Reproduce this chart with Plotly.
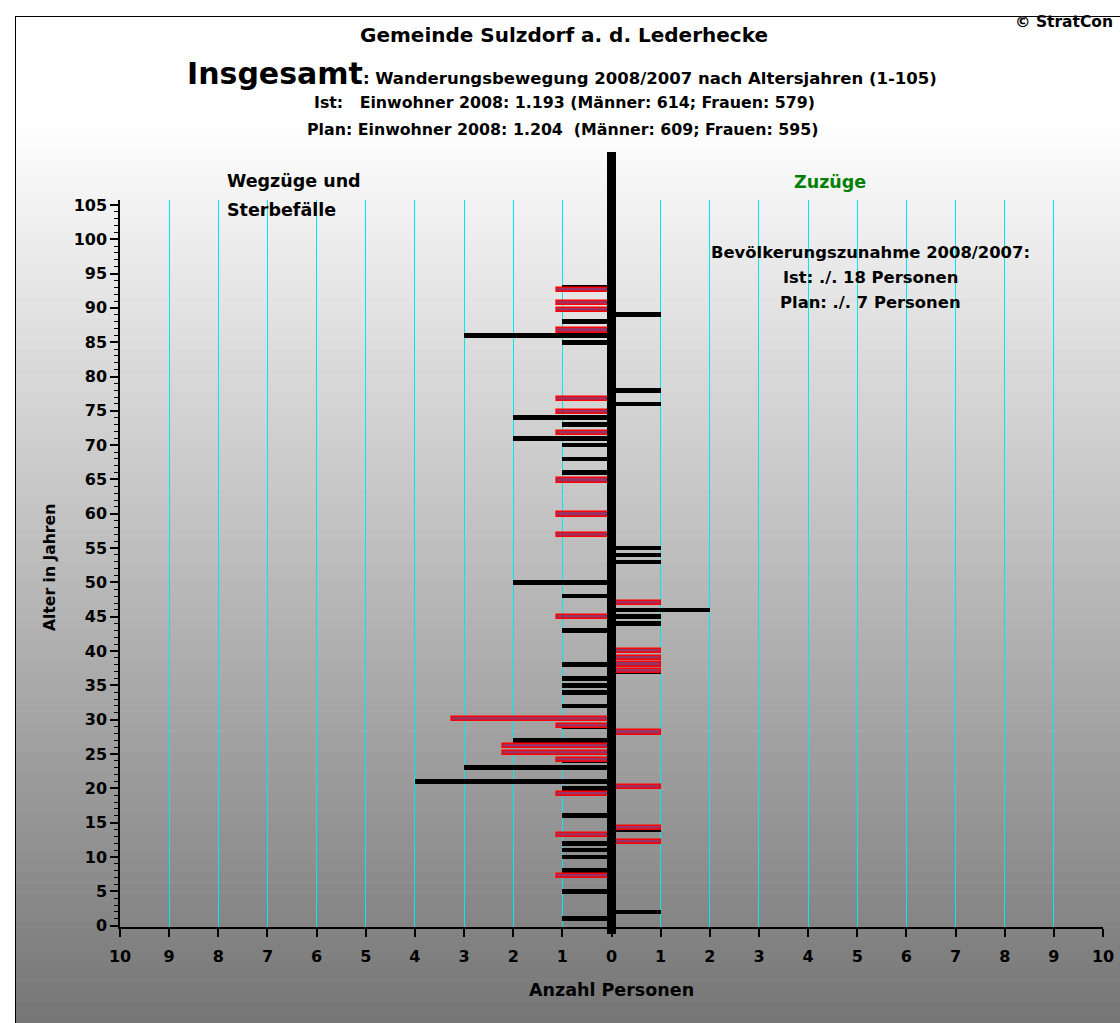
import plotly.graph_objects as go

# ---------------- data ----------------
ist_weg_age = [93, 88, 86, 85, 74, 73, 71, 70, 68, 66, 50, 48, 43, 38, 36, 35, 34, 32,
               29, 27, 24, 23, 21, 20, 16, 12, 11, 10, 8, 5, 1]
ist_weg_n = [1, 1, 3, 1, 2, 1, 2, 1, 1, 1, 2, 1, 1, 1, 1, 1, 1, 1,
             1, 2, 1, 3, 4, 1, 1, 1, 1, 1, 1, 1, 1]

ist_zu_age = [89, 78, 76, 55, 54, 53, 46, 45, 44, 40, 39, 38, 37, 14, 2]
ist_zu_n = [1, 1, 1, 1, 1, 1, 2, 1, 1, 1, 1, 1, 1, 1, 1]

plan_weg_age = [93, 91, 90, 87, 77, 75, 72, 65, 60, 57, 45, 30, 29, 26, 25, 24, 19, 13, 7]
plan_weg_n = [1.1, 1.1, 1.1, 1.1, 1.1, 1.1, 1.1, 1.1, 1.1, 1.1, 1.1, 3.25, 1.1, 2.2, 2.2,
              1.1, 1.1, 1.1, 1.1]

plan_zu_age = [47, 40, 39, 38, 37, 28, 20, 14, 12]
plan_zu_n = [1.0, 1.0, 1.0, 1.0, 1.0, 1.0, 1.0, 1.0, 1.0]

x_ticks = list(range(-10, 11))
x_labels = [str(abs(v)) for v in x_ticks]
y_ticks = list(range(0, 106, 5))

# ---------------- layout geometry ----------------
W, H = 1120, 1023
L, R, T, B = 120, 1103, 200, 927   # plot area in pixels
FONT = "DejaVu Sans"
Y_RANGE = [-0.204, 105.72]


def xp(px):
    return (px - L) / (R - L)


def yp(py):
    return (B - py) / (B - T)


fig = go.Figure()

fig.add_trace(go.Bar(
    y=ist_weg_age, x=[-v for v in ist_weg_n], orientation="h", width=0.68,
    marker=dict(color="black", line=dict(width=0)), name="Ist Wegzüge", yaxis="y"))
fig.add_trace(go.Bar(
    y=ist_zu_age, x=ist_zu_n, orientation="h", width=0.68,
    marker=dict(color="black", line=dict(width=0)), name="Ist Zuzüge", yaxis="y"))
fig.add_trace(go.Bar(
    y=plan_weg_age, x=[-v for v in plan_weg_n], orientation="h", width=0.62,
    marker=dict(color="#993366", line=dict(color="#FF0000", width=1.6)),
    name="Plan Wegzüge", yaxis="y2"))
fig.add_trace(go.Bar(
    y=plan_zu_age, x=plan_zu_n, orientation="h", width=0.62,
    marker=dict(color="#993366", line=dict(color="#FF0000", width=1.6)),
    name="Plan Zuzüge", yaxis="y2"))

# ---------------- background gradient & frame ----------------
shapes = []
nb = 100
top, bot = 17, 1023
for i in range(nb):
    a = top + i * (bot - top) / nb
    b = top + (i + 1) * (bot - top) / nb
    mid = (a + b) / 2
    g = 255 if mid < 120 else 255 - (mid - 120) * (137 / 903)
    g = int(round(g))
    shapes.append(dict(type="rect", xref="paper", yref="paper",
                       x0=xp(15), x1=xp(1130), y0=yp(b + 0.6), y1=yp(a),
                       fillcolor=f"rgb({g},{g},{g})", line=dict(width=0), layer="below"))
shapes.append(dict(type="line", xref="paper", yref="paper", x0=xp(15.5), x1=xp(15.5),
                   y0=yp(1030), y1=yp(16.5), line=dict(color="black", width=1), layer="below"))
shapes.append(dict(type="line", xref="paper", yref="paper", x0=xp(15), x1=xp(1130),
                   y0=yp(16.5), y1=yp(16.5), line=dict(color="black", width=1), layer="below"))
# thick zero bar
shapes.append(dict(type="line", xref="x", yref="paper", x0=0, x1=0,
                   y0=yp(934), y1=yp(152), line=dict(color="black", width=9), layer="above"))


def ann(text, px, py, size, xanchor="center", color="black", angle=0):
    return dict(text=text, x=xp(px), y=yp(py), xref="paper", yref="paper",
                xanchor=xanchor, yanchor="middle", showarrow=False, textangle=angle,
                font=dict(family=FONT, size=size, color=color, weight="bold"))


annotations = [
    ann("© StratCon", 1013, 22, 15.5, xanchor="left"),
    ann("Gemeinde Sulzdorf a. d. Lederhecke", 564, 35, 20),
    ann("<span style='font-size:30px'>Insgesamt</span>: Wanderungsbewegung 2008/2007 nach Altersjahren (1-105)",
        562, 74, 16.5),
    ann("Ist:   Einwohner 2008: 1.193 (Männer: 614; Frauen: 579)", 564, 103, 15.8),
    ann("Plan: Einwohner 2008: 1.204  (Männer: 609; Frauen: 595)", 563, 130, 15.8),
    ann("Wegzüge und", 225, 181, 17.5, xanchor="left"),
    ann("Sterbefälle", 225, 210, 17.5, xanchor="left"),
    ann("Zuzüge", 830, 182, 17.5, color="#008000"),
    ann("Bevölkerungszunahme 2008/2007:", 870, 252, 16.4),
    ann("Ist: ./. 18 Personen", 870, 277, 16.4),
    ann("Plan: ./. 7 Personen", 870, 302, 16.4),
    ann("Anzahl Personen", 611, 990, 17.5),
    ann("Alter in Jahren", 50, 568, 15.6, angle=-90),
]

fig.update_layout(
    width=W, height=H, autosize=False,
    margin=dict(l=L, r=W - R, t=T, b=H - B, pad=0, autoexpand=False),
    paper_bgcolor="white", plot_bgcolor="rgba(0,0,0,0)",
    barmode="overlay", bargap=0, showlegend=False,
    shapes=shapes, annotations=annotations,
    xaxis=dict(range=[-10, 10], tickvals=x_ticks, ticktext=x_labels, automargin=False,
               showgrid=True, gridcolor="#00E8F0", gridwidth=1, zeroline=False,
               showline=True, linecolor="black", linewidth=1.5,
               ticks="outside", ticklen=8, tickcolor="black", tickwidth=1.5,
               ticklabelstandoff=6,
               tickfont=dict(family=FONT, size=16, color="black", weight="bold"),
               fixedrange=True),
    yaxis=dict(range=Y_RANGE, tickvals=y_ticks, ticktext=[str(v) for v in y_ticks],
               automargin=False,
               showgrid=False, zeroline=False, showline=True, linecolor="black", linewidth=1.5,
               ticks="outside", ticklen=8, tickcolor="black", tickwidth=1.5,
               minor=dict(dtick=1, tick0=0, ticks="outside", ticklen=4, tickcolor="black",
                          tickwidth=1, showgrid=False),
               tickfont=dict(family=FONT, size=16, color="black", weight="bold"),
               fixedrange=True),
    yaxis2=dict(range=[-0.528, 106.16], overlaying="y", side="right", visible=False,
                automargin=False, showgrid=False, zeroline=False, fixedrange=True),
    # second copy of the age axis, only to make the ticks cross the axis line
    yaxis3=dict(range=Y_RANGE, overlaying="y", anchor="x", side="left", automargin=False,
                tickvals=y_ticks, showticklabels=False, showgrid=False, zeroline=False,
                showline=False, ticks="inside", ticklen=5, tickcolor="black", tickwidth=1.5,
                minor=dict(dtick=1, tick0=0, ticks="inside", ticklen=4, tickcolor="black",
                           tickwidth=1, showgrid=False),
                fixedrange=True),
)

fig.write_html("out.html", config={"displayModeBar": False, "responsive": False},
               post_script="document.body.style.margin='0';document.body.style.overflow='hidden';")
